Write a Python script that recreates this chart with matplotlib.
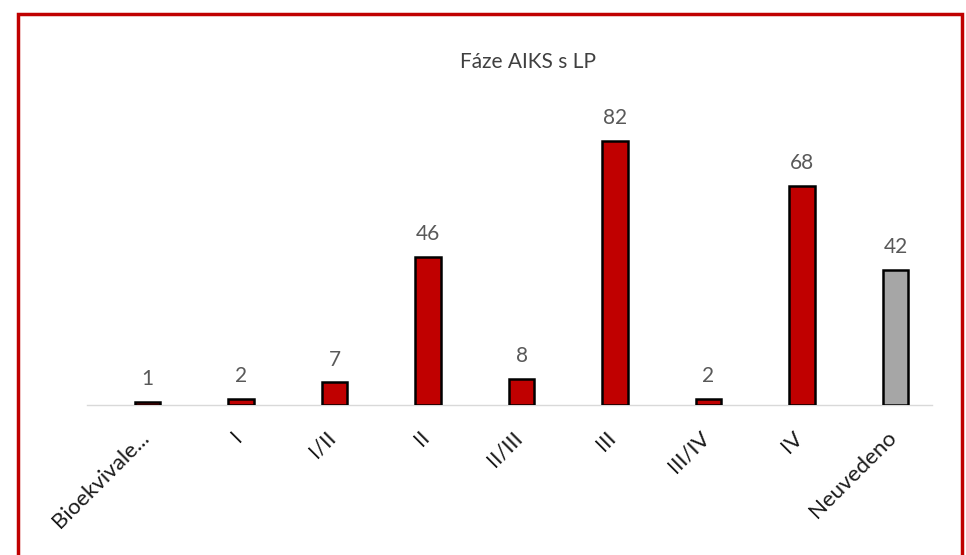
import matplotlib.pyplot as plt
import matplotlib.transforms as mtransforms
from matplotlib.patches import Rectangle

# Data
categories = ["Bioekvivale...", "I", "I/II", "II", "II/III", "III", "III/IV", "IV", "Neuvedeno"]
values = [1, 2, 7, 46, 8, 82, 2, 68, 42]
colors = ["#C00000"] * 8 + ["#A6A6A6"]

plt.rcParams['font.family'] = ['Lato', 'DejaVu Sans']

fig = plt.figure(figsize=(9.66, 5.55), dpi=100)
ax = fig.add_axes([87 / 966, 150 / 555, 845 / 966, 290 / 555])

x = list(range(len(categories)))
ax.bar(x, values, width=0.27, color=colors, edgecolor="black", linewidth=1.8, zorder=3)

for xi, v in zip(x, values):
    ax.text(xi, v + 4, str(v), ha="center", va="bottom", fontsize=15, color="#595959")

ax.set_xlim(-0.647, 8.39)
ax.set_ylim(0, 90)

for s in ["top", "right", "left"]:
    ax.spines[s].set_visible(False)
ax.spines["bottom"].set_color("#D9D9D9")
ax.spines["bottom"].set_linewidth(1)
ax.set_yticks([])
ax.set_xticks(x)
ax.set_xticklabels(categories, rotation=45, ha="right", rotation_mode="anchor",
                   fontsize=16, color="#1a1a1a")
ax.tick_params(axis="x", length=0, pad=16)

# nudge tick labels a little to the left, like the original
offset = mtransforms.ScaledTranslation(-9 / 100, 0, fig.dpi_scale_trans)
for lab in ax.get_xticklabels():
    lab.set_transform(lab.get_transform() + offset)

fig.text(528 / 966, 1 - 62 / 555, "Fáze AIKS s LP", ha="center", va="center",
         fontsize=15, color="#404040")

# red frame around the chart
frame = Rectangle((18 / 966, -0.05), 944 / 966, 1 - 14 / 555 + 0.05,
                  transform=fig.transFigure, fill=False, edgecolor="#C00000",
                  linewidth=2.5, clip_on=False)
fig.patches.append(frame)

fig.savefig("out.png", dpi=100)
